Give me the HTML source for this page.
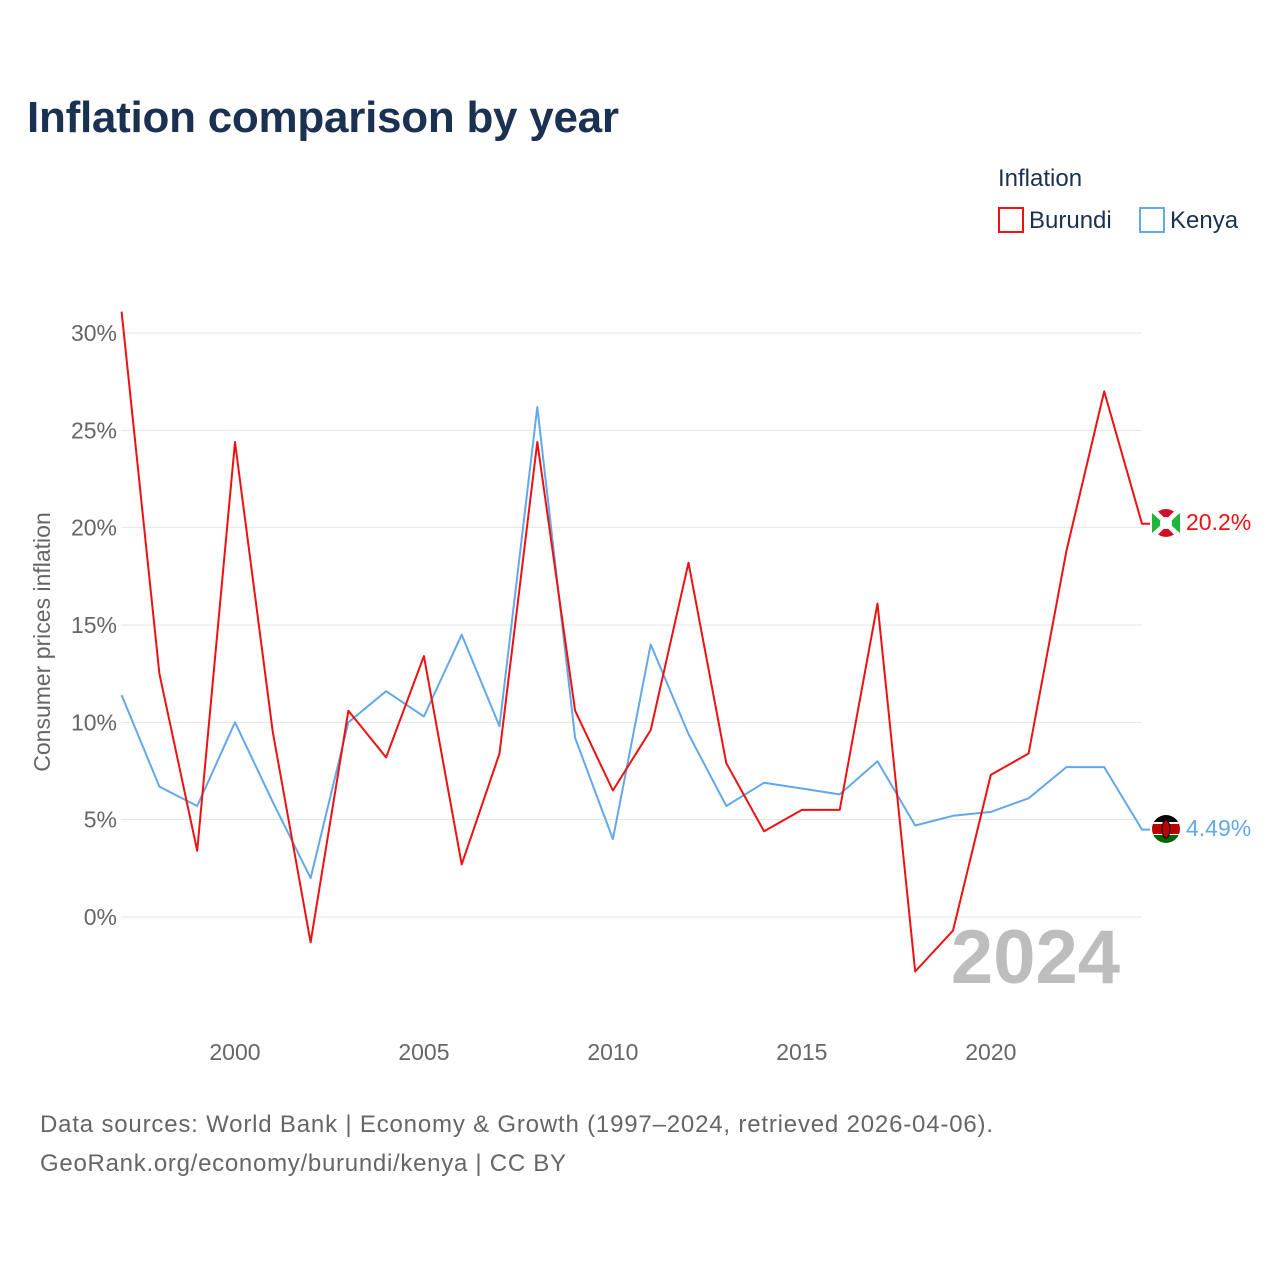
<!DOCTYPE html>
<html><head><meta charset="utf-8"><style>
body{margin:0;background:#fff;width:1280px;height:1280px;overflow:hidden;font-family:"Liberation Sans",sans-serif}
</style></head><body>
<svg width="1280" height="1280" style="font-family:'Liberation Sans',sans-serif">
<text x="27" y="132" font-size="44" font-weight="bold" fill="#1a3152" textLength="592">Inflation comparison by year</text>
<text x="998" y="186" font-size="24" fill="#1a3152">Inflation</text>
<g><rect x="999" y="208" width="24" height="24" fill="none" stroke="#ee1111" stroke-width="2"/><text x="1029" y="228" font-size="24" fill="#1a3152">Burundi</text></g>
<g><rect x="1140" y="208" width="24" height="24" fill="none" stroke="#62a8ea" stroke-width="2"/><text x="1170" y="228" font-size="24" fill="#1a3152">Kenya</text></g>
<g id="grid"></g><g id="yt"></g><g id="xt"></g>
<text transform="translate(50,642) rotate(-90)" text-anchor="middle" font-size="23" fill="#666">Consumer prices inflation</text>
<text x="1120" y="983" text-anchor="end" font-size="76" font-weight="bold" fill="#bdbdbd">2024</text>
<g id="lines"></g>
<g><circle cx="1166" cy="523" r="14" fill="#ce1126"/><path d="M1152 509 L1180 537 M1180 509 L1152 537" stroke="#fff" stroke-width="5"/><path d="M1152 513 L1163 523 L1152 533Z M1180 513 L1169 523 L1180 533Z" fill="#1eb53a"/><circle cx="1166" cy="523" r="6" fill="#fff"/></g>
<g><clipPath id="kc"><circle cx="1166" cy="829" r="14"/></clipPath><g clip-path="url(#kc)"><rect x="1150" y="813" width="32" height="10" fill="#000"/><rect x="1150" y="823" width="32" height="12" fill="#bb0000" stroke="#fff" stroke-width="2"/><rect x="1150" y="835" width="32" height="10" fill="#006600"/><ellipse cx="1166" cy="829" rx="4" ry="9" fill="#bb0000" stroke="#000" stroke-width="1"/></g></g>
<text x="1186" y="530" font-size="23" fill="#ee1111">20.2%</text>
<text x="1186" y="836" font-size="23" fill="#62a8ea">4.49%</text>
<text x="40" y="1132" font-size="24" fill="#666" textLength="953">Data sources: World Bank | Economy &amp; Growth (1997–2024, retrieved 2026-04-06).</text>
<text x="40" y="1171" font-size="24" fill="#666" textLength="526">GeoRank.org/economy/burundi/kenya | CC BY</text>
</svg>
<script>
const years=[1997,1998,1999,2000,2001,2002,2003,2004,2005,2006,2007,2008,2009,2010,2011,2012,2013,2014,2015,2016,2017,2018,2019,2020,2021,2022,2023,2024];
const burundi=[31.1,12.5,3.4,24.4,9.5,-1.3,10.6,8.2,13.4,2.7,8.4,24.4,10.6,6.5,9.6,18.2,7.9,4.4,5.5,5.5,16.1,-2.8,-0.7,7.3,8.4,18.8,27.0,20.2];
const kenya=[11.4,6.7,5.7,10.0,5.9,2.0,10.0,11.6,10.3,14.5,9.8,26.2,9.2,4.0,14.0,9.4,5.7,6.9,6.6,6.3,8.0,4.7,5.2,5.4,6.1,7.7,7.7,4.49];
const yTicks=[0,5,10,15,20,25,30];
const xTicks=[2000,2005,2010,2015,2020];
const NS='http://www.w3.org/2000/svg';
const x=v=>121.6+(v-1997)*(1142-121.6)/27;
const y=v=>917-v*(917-333)/30;
function mk(t,a,p){const e=document.createElementNS(NS,t);for(const k in a)e.setAttribute(k,a[k]);p.appendChild(e);return e;}
const g=document.getElementById('grid'),yt=document.getElementById('yt'),xt=document.getElementById('xt'),L=document.getElementById('lines');
yTicks.forEach(v=>{
 const l=mk('line',{x1:121,x2:1142,y1:y(v),y2:y(v),stroke:'#e6e6e6','stroke-width':1},g);
 
 
 const t=mk('text',{x:117,y:y(v)+8,'text-anchor':'end','font-size':23,fill:'#666'},yt);
 t.textContent=v+'%';
 
 
});
xTicks.forEach(v=>{
 const t=mk('text',{x:x(v),y:1060,'text-anchor':'middle','font-size':23,fill:'#666'},xt);
 t.textContent=v;
 
 
});
function line(d,c,n){
 let p=d.map((v,i)=>(i?'L':'M')+x(years[i]).toFixed(1)+' '+y(v).toFixed(1)).join(' ');
 p+=' L'+(x(years[years.length-1])+8)+' '+y(d[d.length-1]).toFixed(1);
 const e=mk('path',{d:p,fill:'none',stroke:c,'stroke-width':2,'stroke-linejoin':'round'},L);
 
 
}
line(kenya,'#62a8ea','kenya-line');
line(burundi,'#ee1111','burundi-line');
</script>
</body></html>
